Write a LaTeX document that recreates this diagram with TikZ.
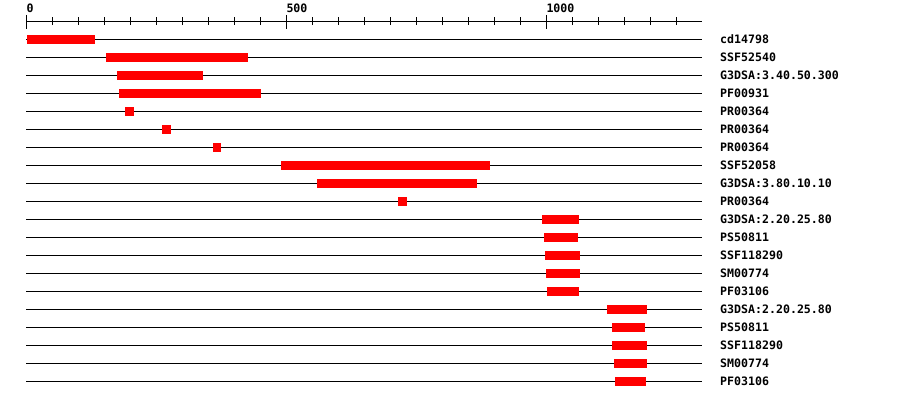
\documentclass[tikz,border=0pt]{standalone}
\usepackage{fontspec}
\newfontfamily\monofont{DejaVu Sans Mono}
\tikzset{
  trk/.style={line width=1pt},
  dom/.style={fill=red},
  lab/.style={anchor=base west, inner sep=0pt, yshift=-0.6pt, font={\monofont\bfseries\fontsize{11.6}{12}\selectfont}},
  tck/.style={line width=1pt}
}
\begin{document}
\begin{tikzpicture}[x=0.52pt, y=1pt]
\useasboundingbox (-50.58,0) rectangle (1680.2,-400);
\coordinate (ax0) at (0,-21.3);
\coordinate (ax1) at (1300,-21.3);
\draw[tck] (ax0) -- (ax1);
\foreach \t in {0,50,...,1250} \draw[tck] (\t,-17.3) -- (\t,-25.3);
\foreach \t in {0,500,1000} \draw[tck] (\t,-14.8) -- (\t,-28.8);
\node[lab] (t0) at (0,-12.3) {0};
\node[lab] (t500) at (500,-12.3) {500};
\node[lab] (t1000) at (1000,-12.3) {1000};
\coordinate (s1) at (0,-39.3); \coordinate (e1) at (1300,-39.3);
\draw[trk] (s1) -- (e1);
\fill[dom] (1,-34.8) rectangle (132,-43.8);
\node[lab] (lab1) at (1334,-42.8) {cd14798};
\coordinate (s2) at (0,-57.3); \coordinate (e2) at (1300,-57.3);
\draw[trk] (s2) -- (e2);
\fill[dom] (153,-52.8) rectangle (426,-61.8);
\node[lab] (lab2) at (1334,-60.8) {SSF52540};
\coordinate (s3) at (0,-75.3); \coordinate (e3) at (1300,-75.3);
\draw[trk] (s3) -- (e3);
\fill[dom] (174,-70.8) rectangle (340,-79.8);
\node[lab] (lab3) at (1334,-78.8) {G3DSA:3.40.50.300};
\coordinate (s4) at (0,-93.3); \coordinate (e4) at (1300,-93.3);
\draw[trk] (s4) -- (e4);
\fill[dom] (178,-88.8) rectangle (451,-97.8);
\node[lab] (lab4) at (1334,-96.8) {PF00931};
\coordinate (s5) at (0,-111.3); \coordinate (e5) at (1300,-111.3);
\draw[trk] (s5) -- (e5);
\fill[dom] (190,-106.8) rectangle (207,-115.8);
\node[lab] (lab5) at (1334,-114.8) {PR00364};
\coordinate (s6) at (0,-129.3); \coordinate (e6) at (1300,-129.3);
\draw[trk] (s6) -- (e6);
\fill[dom] (261,-124.8) rectangle (278,-133.8);
\node[lab] (lab6) at (1334,-132.8) {PR00364};
\coordinate (s7) at (0,-147.3); \coordinate (e7) at (1300,-147.3);
\draw[trk] (s7) -- (e7);
\fill[dom] (359,-142.8) rectangle (374,-151.8);
\node[lab] (lab7) at (1334,-150.8) {PR00364};
\coordinate (s8) at (0,-165.3); \coordinate (e8) at (1300,-165.3);
\draw[trk] (s8) -- (e8);
\fill[dom] (490,-160.8) rectangle (892,-169.8);
\node[lab] (lab8) at (1334,-168.8) {SSF52058};
\coordinate (s9) at (0,-183.3); \coordinate (e9) at (1300,-183.3);
\draw[trk] (s9) -- (e9);
\fill[dom] (559,-178.8) rectangle (867,-187.8);
\node[lab] (lab9) at (1334,-186.8) {G3DSA:3.80.10.10};
\coordinate (s10) at (0,-201.3); \coordinate (e10) at (1300,-201.3);
\draw[trk] (s10) -- (e10);
\fill[dom] (715,-196.8) rectangle (732,-205.8);
\node[lab] (lab10) at (1334,-204.8) {PR00364};
\coordinate (s11) at (0,-219.3); \coordinate (e11) at (1300,-219.3);
\draw[trk] (s11) -- (e11);
\fill[dom] (992,-214.8) rectangle (1063,-223.8);
\node[lab] (lab11) at (1334,-222.8) {G3DSA:2.20.25.80};
\coordinate (s12) at (0,-237.3); \coordinate (e12) at (1300,-237.3);
\draw[trk] (s12) -- (e12);
\fill[dom] (996,-232.8) rectangle (1061,-241.8);
\node[lab] (lab12) at (1334,-240.8) {PS50811};
\coordinate (s13) at (0,-255.3); \coordinate (e13) at (1300,-255.3);
\draw[trk] (s13) -- (e13);
\fill[dom] (998,-250.8) rectangle (1065,-259.8);
\node[lab] (lab13) at (1334,-258.8) {SSF118290};
\coordinate (s14) at (0,-273.3); \coordinate (e14) at (1300,-273.3);
\draw[trk] (s14) -- (e14);
\fill[dom] (1000,-268.8) rectangle (1065,-277.8);
\node[lab] (lab14) at (1334,-276.8) {SM00774};
\coordinate (s15) at (0,-291.3); \coordinate (e15) at (1300,-291.3);
\draw[trk] (s15) -- (e15);
\fill[dom] (1002,-286.8) rectangle (1063,-295.8);
\node[lab] (lab15) at (1334,-294.8) {PF03106};
\coordinate (s16) at (0,-309.3); \coordinate (e16) at (1300,-309.3);
\draw[trk] (s16) -- (e16);
\fill[dom] (1117,-304.8) rectangle (1194,-313.8);
\node[lab] (lab16) at (1334,-312.8) {G3DSA:2.20.25.80};
\coordinate (s17) at (0,-327.3); \coordinate (e17) at (1300,-327.3);
\draw[trk] (s17) -- (e17);
\fill[dom] (1126,-322.8) rectangle (1190,-331.8);
\node[lab] (lab17) at (1334,-330.8) {PS50811};
\coordinate (s18) at (0,-345.3); \coordinate (e18) at (1300,-345.3);
\draw[trk] (s18) -- (e18);
\fill[dom] (1126,-340.8) rectangle (1194,-349.8);
\node[lab] (lab18) at (1334,-348.8) {SSF118290};
\coordinate (s19) at (0,-363.3); \coordinate (e19) at (1300,-363.3);
\draw[trk] (s19) -- (e19);
\fill[dom] (1130,-358.8) rectangle (1194,-367.8);
\node[lab] (lab19) at (1334,-366.8) {SM00774};
\coordinate (s20) at (0,-381.3); \coordinate (e20) at (1300,-381.3);
\draw[trk] (s20) -- (e20);
\fill[dom] (1132,-376.8) rectangle (1192,-385.8);
\node[lab] (lab20) at (1334,-384.8) {PF03106};
\end{tikzpicture}
\end{document}
